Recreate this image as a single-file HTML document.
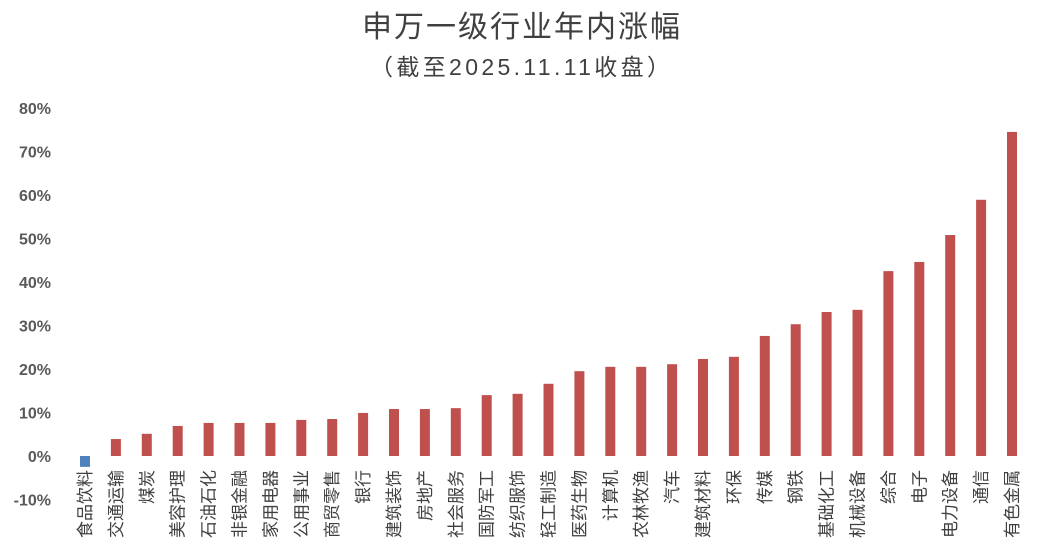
<!DOCTYPE html>
<html><head><meta charset="utf-8"><style>
body{margin:0;background:#fff;}
svg{display:block;font-family:"Liberation Sans","Noto Sans CJK SC",sans-serif;}
</style></head><body>
<svg id="chart" width="1040" height="557">
<text x="521" y="37" text-anchor="middle" font-size="30" fill="#404040" textLength="318">申万一级行业年内涨幅</text>
<text x="520" y="75" text-anchor="middle" font-size="23" fill="#404040" textLength="300">（截至2025.11.11收盘）</text>
<g id="yaxis"></g>
<g id="bars"></g>
<g id="xlabels"></g>
</svg>
<script>
const categories=["食品饮料","交通运输","煤炭","美容护理","石油石化","非银金融","家用电器","公用事业","商贸零售","银行","建筑装饰","房地产","社会服务","国防军工","纺织服饰","轻工制造","医药生物","计算机","农林牧渔","汽车","建筑材料","环保","传媒","钢铁","基础化工","机械设备","综合","电子","电力设备","通信","有色金属"];
const values=[-2.5,3.9,5.1,6.9,7.6,7.6,7.6,8.3,8.5,9.9,10.8,10.8,11.0,14.0,14.3,16.6,19.5,20.5,20.5,21.1,22.3,22.8,27.6,30.3,33.1,33.6,42.5,44.6,50.8,58.9,74.5];
const yTicks=[-10,0,10,20,30,40,50,60,70,80];
const ns="http://www.w3.org/2000/svg";
const y=v=>456-v*4.35;
const x=i=>85+i*30.9;
const ya=document.getElementById('yaxis'),bg=document.getElementById('bars'),xl=document.getElementById('xlabels');
yTicks.forEach(t=>{
 const e=document.createElementNS(ns,'text');
 e.setAttribute('x',51);e.setAttribute('y',y(t)+6);e.setAttribute('text-anchor','end');
 e.setAttribute('font-size','16');e.setAttribute('font-weight','bold');e.setAttribute('fill','#595959');
 e.textContent=t+'%';
 
 
 ya.appendChild(e);
});
values.forEach((v,i)=>{
 const r=document.createElementNS(ns,'rect');
 r.setAttribute('x',x(i)-5);r.setAttribute('width',10);
 r.setAttribute('y',Math.min(y(v),y(0)));r.setAttribute('height',Math.abs(y(v)-y(0)));
 r.setAttribute('fill',v<0?'#4F81BD':'#C0504D');
 
 
 bg.appendChild(r);
 const t=document.createElementNS(ns,'text');
 t.setAttribute('transform','translate('+(x(i)+6)+',470) rotate(-90)');
 t.setAttribute('text-anchor','end');t.setAttribute('font-size','17');t.setAttribute('fill','#404040');
 t.textContent=categories[i];
 
 
 xl.appendChild(t);
});
</script>
</body></html>
